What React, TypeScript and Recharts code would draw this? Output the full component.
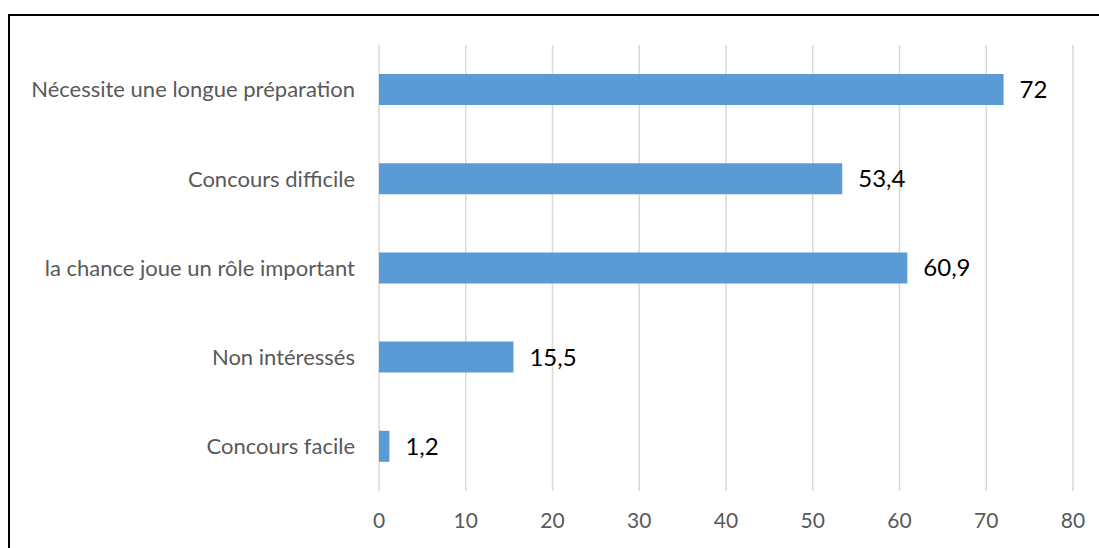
import { BarChart, Bar, XAxis, YAxis, CartesianGrid, LabelList } from 'recharts';

const CATEGORIES = [
  'Nécessite une longue préparation',
  'Concours difficile',
  'la chance joue un rôle important',
  'Non intéressés',
  'Concours facile',
];
const VALUES = [72, 53.4, 60.9, 15.5, 1.2];
const X_TICKS = [0, 10, 20, 30, 40, 50, 60, 70, 80];

const data = CATEGORIES.map((name, i) => ({ name, value: VALUES[i] }));

const FONT = 'Lato, "Open Sans", sans-serif';

export default function App() {
  return (
    <div style={{ position: 'absolute', left: 0, top: 0, width: 1099, height: 548, background: '#fff', overflow: 'hidden', fontFamily: FONT }}>
      {/* frame of the pasted chart, cut off at right and bottom */}
      <div style={{ position: 'absolute', left: 8, top: 14, width: 1200, height: 600, border: '2px solid #000' }} />
      <div style={{ position: 'absolute', left: 0, top: 0 }}>
        <BarChart
          width={1099}
          height={548}
          data={data}
          layout="vertical"
          margin={{ top: 45, right: 26, bottom: 0, left: 0 }}
          barCategoryGap="32%"
        >
          <CartesianGrid horizontal={false} stroke="#d9d9d9" strokeWidth={1.5} />
          <XAxis
            type="number"
            domain={[0, 80]}
            ticks={X_TICKS}
            axisLine={false}
            tickLine={false}
            height={57}
            tickMargin={16}
            tick={{ fill: '#595959', fontSize: 21, fontFamily: FONT }}
          />
          <YAxis
            type="category"
            dataKey="name"
            width={379}
            axisLine={false}
            tickLine={false}
            tickMargin={18}
            tick={{ fill: '#595959', fontSize: 22, fontFamily: FONT }}
          />
          <Bar dataKey="value" fill="#5b9bd5" barSize={31} isAnimationActive={false}>
            <LabelList
              dataKey="value"
              position="right"
              offset={16}
              fill="#000"
              fontSize={24}
              fontFamily={FONT}
              formatter={(v: number) => String(v).replace('.', ',')}
            />
          </Bar>
        </BarChart>
      </div>
    </div>
  );
}
